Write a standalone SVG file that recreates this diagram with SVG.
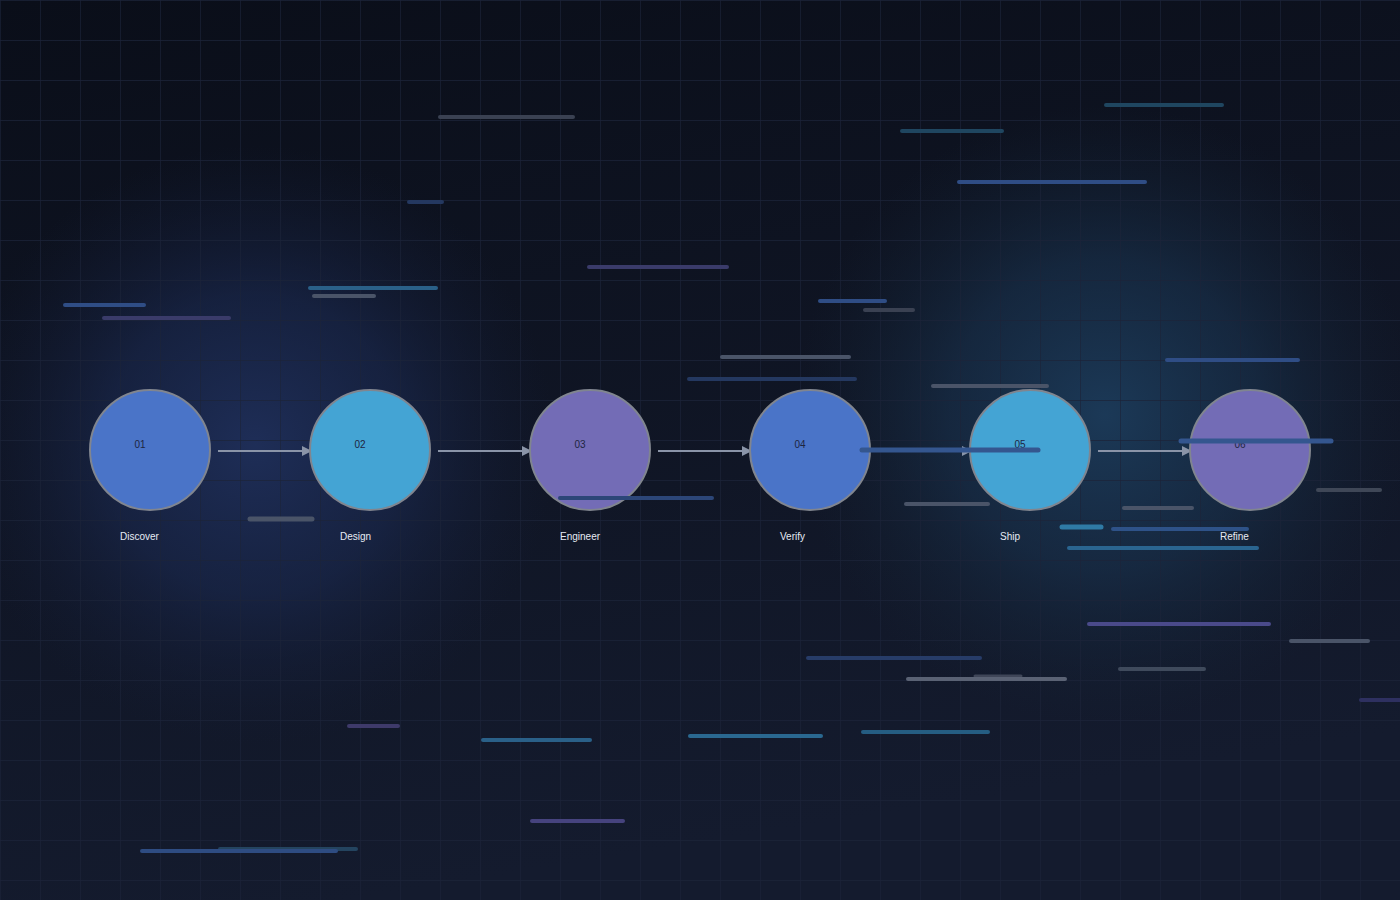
<svg xmlns="http://www.w3.org/2000/svg" width="1400" height="900" viewBox="0 0 1400 900">
  <defs>
    <linearGradient id="bg" x1="0" y1="0" x2="0.25" y2="1">
      <stop offset="0" stop-color="#0a0e19"/>
      <stop offset="1" stop-color="#141b2e"/>
    </linearGradient>
    <radialGradient id="glowBlue" cx="255" cy="445" r="300" gradientUnits="userSpaceOnUse">
      <stop offset="0" stop-color="#1f2f5a" stop-opacity="0.95"/>
      <stop offset="0.5" stop-color="#1b2a52" stop-opacity="0.6"/>
      <stop offset="1" stop-color="#141d38" stop-opacity="0"/>
    </radialGradient>
    <radialGradient id="glowTeal" cx="1105" cy="415" r="310" gradientUnits="userSpaceOnUse">
      <stop offset="0" stop-color="#1c3b5a" stop-opacity="0.95"/>
      <stop offset="0.5" stop-color="#19334f" stop-opacity="0.6"/>
      <stop offset="1" stop-color="#142436" stop-opacity="0"/>
    </radialGradient>
    <pattern id="grid" width="40" height="40" patternUnits="userSpaceOnUse">
      <path d="M40 0 H0 V40" fill="none" stroke="#1b2339" stroke-width="1.3"/>
    </pattern>
    <marker id="arrow" viewBox="0 0 10 10" refX="9" refY="5" markerWidth="10" markerHeight="10" markerUnits="userSpaceOnUse" orient="auto">
      <path d="M0 0 L10 5 L0 10 Z" fill="#8a94a8"/>
    </marker>
  </defs>
  <style>
    .node { stroke: #80858f; stroke-width: 2; }
    .c-blue { fill: #4a74c8; }
    .c-teal { fill: #44a4d4; }
    .c-purple { fill: #736cb6; }
    .num { font-family: "Liberation Sans", Arial, sans-serif; font-size: 10px; fill: #1e2540; }
    .label { font-family: "Liberation Sans", Arial, sans-serif; font-size: 10px; fill: #e6ebf3; }
    .edge { stroke: #8a94a8; stroke-width: 2; fill: none; }
    .bar { stroke-linecap: round; stroke-width: 4; fill: none; }
    .g1 { stroke: #3a4152; }
    .g2 { stroke: #4a5468; }
    .g3 { stroke: #5a6274; }
    .b1 { stroke: #2f4d85; }
    .b2 { stroke: #243860; }
    .t1 { stroke: #2a6088; }
    .t2 { stroke: #1f4660; }
    .p1 { stroke: #3a3b6a; }
    .p2 { stroke: #4a4a8a; }
  </style>

  <rect width="1400" height="900" fill="url(#bg)"/>
  <rect width="1400" height="900" fill="url(#glowBlue)"/>
  <rect width="1400" height="900" fill="url(#glowTeal)"/>
  <rect width="1400" height="900" fill="url(#grid)"/>

  <g id="connectors">
    <line class="edge" x1="218" y1="451" x2="311" y2="451" marker-end="url(#arrow)"/>
    <line class="edge" x1="438" y1="451" x2="531" y2="451" marker-end="url(#arrow)"/>
    <line class="edge" x1="658" y1="451" x2="751" y2="451" marker-end="url(#arrow)"/>
    <line class="edge" x1="878" y1="451" x2="971" y2="451" marker-end="url(#arrow)"/>
    <line class="edge" x1="1098" y1="451" x2="1191" y2="451" marker-end="url(#arrow)"/>
  </g>

  <g id="node-01">
    <circle class="node c-blue" cx="150" cy="450" r="60"/>
    <text class="num" x="134.5" y="448">01</text>
    <text class="label" x="120" y="540">Discover</text>
  </g>
  <g id="node-02">
    <circle class="node c-teal" cx="370" cy="450" r="60"/>
    <text class="num" x="354.5" y="448">02</text>
    <text class="label" x="340" y="540">Design</text>
  </g>
  <g id="node-03">
    <circle class="node c-purple" cx="590" cy="450" r="60"/>
    <text class="num" x="574.5" y="448">03</text>
    <text class="label" x="560" y="540">Engineer</text>
  </g>
  <g id="node-04">
    <circle class="node c-blue" cx="810" cy="450" r="60"/>
    <text class="num" x="794.5" y="448">04</text>
    <text class="label" x="780" y="540">Verify</text>
  </g>
  <g id="node-05">
    <circle class="node c-teal" cx="1030" cy="450" r="60"/>
    <text class="num" x="1014.5" y="448">05</text>
    <text class="label" x="1000" y="540">Ship</text>
  </g>
  <g id="node-06">
    <circle class="node c-purple" cx="1250" cy="450" r="60"/>
    <text class="num" x="1234.5" y="448">06</text>
    <text class="label" x="1220" y="540">Refine</text>
  </g>

  <g id="streaks">
    <line class="bar g1" x1="440" y1="117" x2="573" y2="117"/>
    <line class="bar t2" x1="1106" y1="105" x2="1222" y2="105"/>
    <line class="bar t2" x1="902" y1="131" x2="1002" y2="131"/>
    <line class="bar b1" x1="959" y1="182" x2="1145" y2="182"/>
    <line class="bar b2" x1="409" y1="202" x2="442" y2="202"/>
    <line class="bar p1" x1="589" y1="267" x2="727" y2="267"/>
    <line class="bar t1" x1="310" y1="288" x2="436" y2="288"/>
    <line class="bar g2" x1="314" y1="296" x2="374" y2="296"/>
    <line class="bar b1" x1="65" y1="305" x2="144" y2="305"/>
    <line class="bar p1" x1="104" y1="318" x2="229" y2="318"/>
    <line class="bar b1" x1="820" y1="301" x2="885" y2="301"/>
    <line class="bar g1" x1="865" y1="310" x2="913" y2="310"/>
    <line class="bar g2" x1="722" y1="357" x2="849" y2="357"/>
    <line class="bar b2" x1="689" y1="379" x2="855" y2="379"/>
    <line class="bar g2" x1="933" y1="386" x2="1047" y2="386"/>
    <line class="bar b1" x1="1167" y1="360" x2="1298" y2="360"/>
    <line class="bar b1" x1="1181" y1="441" x2="1331" y2="441" style="stroke:#34568f;stroke-width:5"/>
    <line class="bar b1" x1="862" y1="450" x2="1038" y2="450" style="stroke:#34568f;stroke-width:5"/>
    <line class="bar b1" x1="560" y1="498" x2="712" y2="498" style="stroke:#2c4678"/>
    <line class="bar g2" x1="906" y1="504" x2="988" y2="504"/>
    <line class="bar g2" x1="250" y1="519" x2="312" y2="519" style="stroke-width:5"/>
    <line class="bar g2" x1="1124" y1="508" x2="1192" y2="508"/>
    <line class="bar g1" x1="1318" y1="490" x2="1380" y2="490" style="stroke:#3f4757"/>
    <line class="bar t1" x1="1062" y1="527" x2="1101" y2="527" style="stroke:#2f7aa5;stroke-width:5"/>
    <line class="bar b1" x1="1113" y1="529" x2="1247" y2="529" style="stroke:#2e5288"/>
    <line class="bar t1" x1="1069" y1="548" x2="1257" y2="548" style="stroke:#2a6590"/>
    <line class="bar p2" x1="1089" y1="624" x2="1269" y2="624"/>
    <line class="bar g2" x1="1291" y1="641" x2="1368" y2="641"/>
    <line class="bar b2" x1="808" y1="658" x2="980" y2="658" style="stroke:#273c68"/>
    <line class="bar g2" x1="1120" y1="669" x2="1204" y2="669" style="stroke:#3f4a5c"/>
    <line class="bar g2" x1="975" y1="676" x2="1021" y2="676" style="stroke:#3f4658;stroke-width:3"/>
    <line class="bar g3" x1="908" y1="679" x2="1065" y2="679"/>
    <line class="bar p1" x1="1361" y1="700" x2="1402" y2="700" style="stroke:#2e3060"/>
    <line class="bar p1" x1="349" y1="726" x2="398" y2="726" style="stroke:#3e3a6a"/>
    <line class="bar t1" x1="483" y1="740" x2="590" y2="740"/>
    <line class="bar t1" x1="690" y1="736" x2="821" y2="736" style="stroke:#2a6890"/>
    <line class="bar t1" x1="863" y1="732" x2="988" y2="732" style="stroke:#255d82"/>
    <line class="bar p2" x1="532" y1="821" x2="623" y2="821" style="stroke:#46437e"/>
    <line class="bar t2" x1="220" y1="849" x2="356" y2="849" style="stroke:#24445f"/>
    <line class="bar b1" x1="142" y1="851" x2="336" y2="851" style="stroke:#2e4c82"/>
  </g>
</svg>
